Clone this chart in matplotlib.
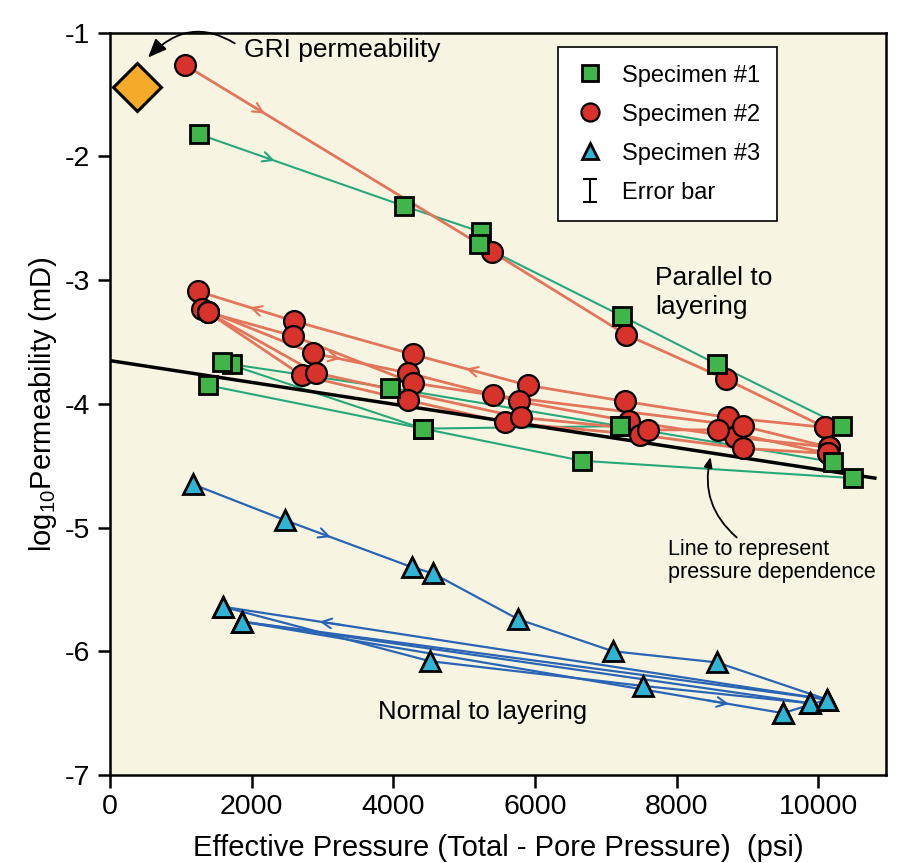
import numpy as np
import matplotlib
matplotlib.use("Agg")
import matplotlib.pyplot as plt

plt.rcParams['font.family'] = ['Liberation Sans', 'DejaVu Sans']
plt.rcParams['mathtext.default'] = 'regular'
plt.rcParams['axes.unicode_minus'] = False

# Specimen #1 (green squares), one list per run
s1_runs = [
    ([1257, 4151, 5238, 5210, 7229, 8570, 10340],
     [-1.82, -2.40, -2.61, -2.71, -3.29, -3.68, -4.18]),
    ([1723, 3954, 7200, 10210], [-3.68, -3.87, -4.18, -4.47]),
    ([1581, 4420, 7200], [-3.66, -4.20, -4.18]),
    ([1384, 4420, 6665, 10490], [-3.85, -4.20, -4.46, -4.60]),
]

# Specimen #2 (red circles)
s2_runs = [
    ([1059, 5394, 7286, 8698, 10096], [-1.26, -2.77, -3.44, -3.80, -4.19]),
    ([10096, 8726, 7272, 5902, 4278, 2598, 1243],
     [-4.19, -4.11, -3.98, -3.85, -3.60, -3.33, -3.09]),
    ([1299, 2866, 4208, 5775, 7329, 8825, 10153],
     [-3.23, -3.59, -3.75, -3.98, -4.14, -4.27, -4.35]),
    ([10153, 8938, 5408, 4278, 2584, 1384],
     [-4.35, -4.18, -3.93, -3.83, -3.45, -3.26]),
    ([1384, 2711, 4208, 5577, 7484, 8938, 10138],
     [-3.26, -3.77, -3.97, -4.15, -4.25, -4.36, -4.40]),
    ([1384, 2909, 5803, 7597, 8585, 10138],
     [-3.26, -3.75, -4.11, -4.21, -4.21, -4.40]),
]

# Specimen #3 (blue triangles)
s3_runs = [
    ([1172, 2471, 4264, 4561, 5761, 7102, 8570, 10124],
     [-4.65, -4.94, -5.32, -5.37, -5.74, -6.00, -6.09, -6.39]),
    ([10124, 1596], [-6.39, -5.64]),
    ([1596, 4518, 7526, 9884], [-5.64, -6.08, -6.28, -6.42]),
    ([9884, 1864], [-6.42, -5.76]),
    ([1864, 9503], [-5.76, -6.50]),
    ([9503, 10124, 1864], [-6.50, -6.39, -5.76]),
]

# pressure dependence line and GRI value
trend_x = [0, 10800]
trend_y = [-3.65, -4.60]
gri_x, gri_y = 381, -1.44

green_line = '#27a87a'
red_line = '#e2755a'
blue_line = '#2a64b4'
green_mk = '#3fb54a'
red_mk = '#d7332b'
blue_mk = '#30b4d6'

fig = plt.figure(figsize=(9.08, 8.63), dpi=100)
ax = fig.add_axes([0.121, 0.102, 0.855, 0.860])
ax.set_facecolor('#f7f5e2')


def chevron(run, seg, t, color):
    # small open arrowhead sitting on a segment of a run
    xs, ys = run
    x0, y0, x1, y1 = xs[seg], ys[seg], xs[seg + 1], ys[seg + 1]
    xa, ya = x0 + t * (x1 - x0), y0 + t * (y1 - y0)
    xb, yb = x0 + (t + 0.04) * (x1 - x0), y0 + (t + 0.04) * (y1 - y0)
    ax.annotate('', xy=(xb, yb), xytext=(xa, ya), zorder=2,
                arrowprops=dict(arrowstyle='->,head_length=0.7,head_width=0.35',
                                color=color, lw=1.5, shrinkA=0, shrinkB=0))


ax.plot(trend_x, trend_y, color='black', lw=2.5, zorder=3)

for xs, ys in s1_runs:
    ax.plot(xs, ys, color=green_line, lw=1.5, zorder=2)
for xs, ys in s2_runs:
    ax.plot(xs, ys, color=red_line, lw=2.0, zorder=2)
for xs, ys in s3_runs:
    ax.plot(xs, ys, color=blue_line, lw=1.6, zorder=2)

for xs, ys in s1_runs:
    ax.plot(xs, ys, 's', ms=13.5, mfc=green_mk, mec='black', mew=2, zorder=5)
for xs, ys in s2_runs:
    ax.plot(xs, ys, 'o', ms=15, mfc=red_mk, mec='black', mew=1.6, zorder=4)
for xs, ys in s3_runs:
    ax.plot(xs, ys, '^', ms=14, mfc=blue_mk, mec='black', mew=2, zorder=5)

chevron(s2_runs[0], 0, 0.22, red_line)
chevron(s1_runs[0], 0, 0.33, green_line)
chevron(s2_runs[1], 5, 0.42, red_line)
chevron(s2_runs[1], 3, 0.50, red_line)
chevron(s2_runs[2], 1, 0.25, red_line)
chevron(s3_runs[0], 1, 0.32, blue_line)
chevron(s3_runs[1], 0, 0.80, blue_line)
chevron(s3_runs[4], 0, 0.86, blue_line)

ax.plot([gri_x], [gri_y], 'D', ms=24, mfc='#f5aa2a', mec='black', mew=2.2,
        zorder=6, clip_on=False)

ax.annotate('GRI permeability', xy=(540, -1.20), xytext=(1900, -1.14),
            fontsize=19, va='center', ha='left',
            arrowprops=dict(arrowstyle='-|>,head_length=0.6,head_width=0.25',
                            color='black', lw=1.3, shrinkA=6, shrinkB=0,
                            relpos=(0, 0.5),
                            connectionstyle='arc3,rad=0.45'))
ax.text(7700, -3.10, 'Parallel to\nlayering', fontsize=19, va='center',
        ha='left', linespacing=1.25)
ax.text(3790, -6.49, 'Normal to layering', fontsize=18.5, va='center',
        ha='left')
ax.text(7880, -5.27, 'Line to represent\npressure dependence', fontsize=15.5,
        va='center', ha='left', linespacing=1.1, zorder=7)
ax.annotate('', xy=(8480, -4.43), xytext=(8850, -5.08),
            arrowprops=dict(arrowstyle='-|>,head_length=0.6,head_width=0.25',
                            color='black', lw=1.3, shrinkA=0, shrinkB=0,
                            connectionstyle='arc3,rad=-0.3'))

# legend handles
h1, = ax.plot([], [], 's', ms=11, mfc=green_mk, mec='black', mew=2)
h2, = ax.plot([], [], 'o', ms=13, mfc=red_mk, mec='black', mew=1.6)
h3, = ax.plot([], [], '^', ms=12, mfc=blue_mk, mec='black', mew=2)
h4 = ax.errorbar([np.nan], [np.nan], yerr=[[0.1]], fmt='none', ecolor='black',
                 elinewidth=1.5, capsize=5, capthick=1.5)
leg = ax.legend([h1, h2, h3, h4],
                ['Specimen #1', 'Specimen #2', 'Specimen #3', 'Error bar'],
                loc='upper left', bbox_to_anchor=(0.577, 0.981), fontsize=17,
                frameon=True, fancybox=False, edgecolor='black',
                facecolor='white', framealpha=1, handlelength=1.2,
                handletextpad=0.75, labelspacing=0.72, borderpad=0.75,
                borderaxespad=0)
leg.get_frame().set_linewidth(1.2)
leg.set_zorder(10)

ax.set_xlim(0, 10960)
ax.set_ylim(-7, -1)
ax.set_xticks([0, 2000, 4000, 6000, 8000, 10000])
ax.set_yticks([-7, -6, -5, -4, -3, -2, -1])
ax.tick_params(direction='out', length=9, width=1.8, labelsize=20.5, pad=5)
for sp in ax.spines.values():
    sp.set_linewidth(1.8)

ax.set_xlabel('Effective Pressure (Total - Pore Pressure)  (psi)', fontsize=21,
              labelpad=10)
ax.set_ylabel('log$_{10}$Permeability (mD)', fontsize=21, labelpad=4)

fig.savefig('out.png', dpi=100, facecolor='white')
